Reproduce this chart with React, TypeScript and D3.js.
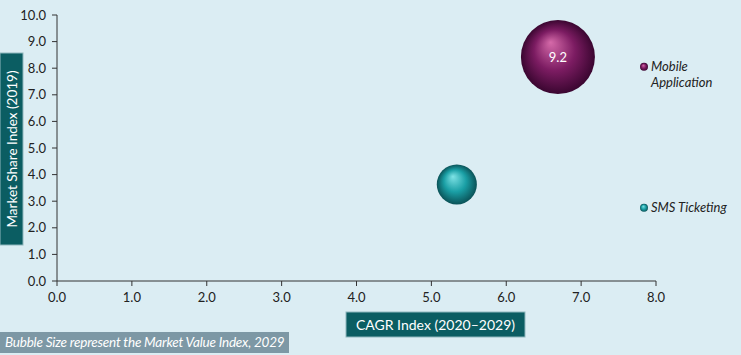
import React from "react";
import * as d3 from "d3";

const categories = ["Mobile Application", "SMS Ticketing"];
const cagrIndex = [6.69, 5.34];
const shareIndex = [8.42, 3.63];
const sizeIndex = [9.2, 2.7];
const showLabel = [true, false];
const xTicks = [0, 1, 2, 3, 4, 5, 6, 7, 8];
const yTicks = [0, 1, 2, 3, 4, 5, 6, 7, 8, 9, 10];
const legendY = [8.05, 2.75];

const W = 741, H = 355;
const FONT = "Lato, 'Open Sans', sans-serif";

export default function App() {
  const x = d3.scaleLinear().domain([0, 8]).range([57, 656]);
  const y = d3.scaleLinear().domain([0, 10]).range([281, 15]);
  const r = d3.scaleSqrt().domain([0, 9.2]).range([0, 37]);
  const grads = [
    { id: "g0", hi: "#d56aa9", mid: "#7c1c62", lo: "#3a0630" },
    { id: "g1", hi: "#7fe3e6", mid: "#1a9fa5", lo: "#0a5257" },
  ];
  return (
    <svg width={W} height={H} style={{ position: "fixed", left: 0, top: 0, display: "block" }}>
      <defs>
        {grads.map((g) => (
          <radialGradient key={g.id} id={g.id} cx="0.5" cy="0.5" r="0.5" fx="0.4" fy="0.3">
            <stop offset="0" stopColor={g.hi} />
            <stop offset="0.55" stopColor={g.mid} />
            <stop offset="1" stopColor={g.lo} />
          </radialGradient>
        ))}
      </defs>
      <rect x={0} y={0} width={W} height={H} fill="#dbedf3" />
      {/* axes */}
      <line x1={x(0)} x2={x(8)} y1={y(0)} y2={y(0)} stroke="#333" strokeWidth={1} />
      <line x1={x(0)} x2={x(0)} y1={y(0)} y2={y(10)} stroke="#333" strokeWidth={1} />
      {yTicks.map((t) => (
        <g key={"y" + t}>
          <line x1={x(0) - 5} x2={x(0)} y1={y(t)} y2={y(t)} stroke="#333" />
          <text x={x(0) - 11} y={y(t)} dy="0.35em" textAnchor="end" fontSize={13} fontFamily={FONT} fill="#222">
            {t.toFixed(1)}
          </text>
        </g>
      ))}
      {xTicks.map((t) => (
        <g key={"x" + t}>
          <line x1={x(t)} x2={x(t)} y1={y(0)} y2={y(0) + 5} stroke="#333" />
          <text x={x(t)} y={y(0) + 21} textAnchor="middle" fontSize={13} fontFamily={FONT} fill="#222">
            {t.toFixed(1)}
          </text>
        </g>
      ))}
      {/* y title */}
      <rect x={0} y={53} width={23} height={192} fill="#0b5d62" stroke="#8fb7bd" strokeWidth={1} />
      <text transform={`translate(16.5,149) rotate(-90)`} textAnchor="middle" fontSize={13.5} fontFamily={FONT} fill="#fff">
        Market Share Index (2019)
      </text>
      {/* x title */}
      <rect x={346} y={312} width={179} height={25} fill="#0b5d62" stroke="#8fb7bd" strokeWidth={1} />
      <text x={435.5} y={329.5} textAnchor="middle" fontSize={14} fontFamily={FONT} fill="#fff">
        CAGR Index (2020–2029)
      </text>
      {/* note */}
      <rect x={0} y={332} width={289} height={21} fill="#7d98a5" />
      <text x={5} y={347} fontSize={13.5} fontStyle="italic" fontFamily={FONT} fill="#fff" letterSpacing={-0.2}>
        Bubble Size represent the Market Value Index, 2029
      </text>
      {/* bubbles */}
      {categories.map((c, i) => (
        <g key={c}>
          <circle cx={x(cagrIndex[i])} cy={y(shareIndex[i])} r={r(sizeIndex[i])} fill={`url(#g${i})`} />
          {showLabel[i] && (
            <text x={x(cagrIndex[i])} y={y(shareIndex[i]) + 4.5} textAnchor="middle" fontSize={13} fontFamily={FONT} fill="#fff">
              {sizeIndex[i].toFixed(1)}
            </text>
          )}
        </g>
      ))}
      {/* legend */}
      {categories.map((c, i) => {
        const words = i === 0 ? ["Mobile", "Application"] : [c];
        const ly = y(legendY[i]);
        return (
          <g key={"l" + c}>
            <circle cx={644} cy={ly} r={4} fill={`url(#g${i})`} />
            <text x={651} y={ly + 4.5} fontSize={13} fontStyle="italic" fontFamily={FONT} fill="#222">
              {words.map((w, j) => (
                <tspan key={w} x={651} dy={j === 0 ? 0 : 16}>{w}</tspan>
              ))}
            </text>
          </g>
        );
      })}
    </svg>
  );
}
